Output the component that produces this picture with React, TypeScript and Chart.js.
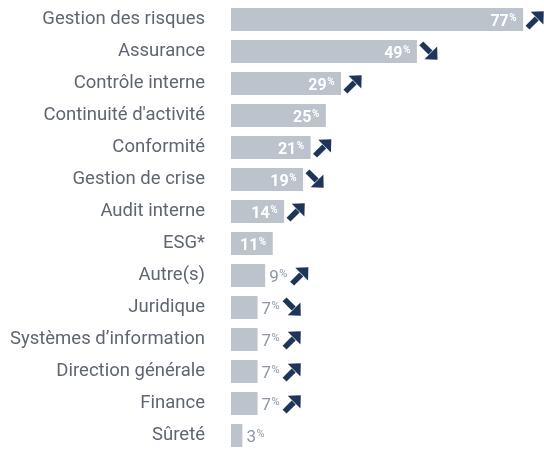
import React, { useEffect, useRef } from "react";
import { Chart, registerables } from "chart.js";

Chart.register(...registerables);

const categories = [
  "Gestion des risques",
  "Assurance",
  "Contrôle interne",
  "Continuité d'activité",
  "Conformité",
  "Gestion de crise",
  "Audit interne",
  "ESG*",
  "Autre(s)",
  "Juridique",
  "Systèmes d’information",
  "Direction générale",
  "Finance",
  "Sûreté",
];
const values = [77, 49, 29, 25, 21, 19, 14, 11, 9, 7, 7, 7, 7, 3];
// 1 = rising, -1 = falling, 0 = no arrow
const trends = [1, -1, 1, 0, 1, -1, 1, 0, 1, -1, 1, 1, 1, 0];

const BAR = "#bcc3cd";
const LABEL = "#5f6672";
const OUT = "#8c95a4";
const ARROW = "#1e3559";
const FONT = "Roboto, 'DejaVu Sans', sans-serif";

function drawArrow(ctx: CanvasRenderingContext2D, cx: number, cy: number, dir: number) {
  ctx.save();
  ctx.translate(cx, cy);
  ctx.rotate(dir > 0 ? -Math.PI / 4 : Math.PI / 4);
  ctx.fillStyle = ARROW;
  ctx.beginPath();
  ctx.rect(-11.5, -2.8, 13, 5.6);
  ctx.fill();
  ctx.beginPath();
  ctx.moveTo(11.5, 0);
  ctx.lineTo(2, -9);
  ctx.lineTo(2, 9);
  ctx.closePath();
  ctx.fill();
  ctx.restore();
}

const labelPlugin = {
  id: "valueLabels",
  afterDatasetsDraw(chart: any) {
    const ctx = chart.ctx as CanvasRenderingContext2D;
    const meta = chart.getDatasetMeta(0);
    meta.data.forEach((bar: any, i: number) => {
      const v = values[i];
      const x = bar.x;
      const y = bar.y;
      const inside = v >= 11;
      const num = String(v);
      const w = inside ? "bold " : "";
      const ns = inside ? 16 : 17;
      const ps = inside ? 10 : 11;
      ctx.save();
      ctx.textBaseline = "alphabetic";
      ctx.font = `${w}${ns}px ${FONT}`;
      const nw = ctx.measureText(num).width;
      ctx.font = `${w}${ps}px ${FONT}`;
      const pw = ctx.measureText("%").width;
      const start = inside ? x - 7 - nw - pw : x + 4;
      const base = y + 6;
      ctx.fillStyle = inside ? "#ffffff" : OUT;
      ctx.font = `${w}${ns}px ${FONT}`;
      ctx.fillText(num, start, base);
      ctx.font = `${w}${ps}px ${FONT}`;
      ctx.fillText("%", start + nw + 0.5, base - 5);
      ctx.restore();
      const end = inside ? x : start + nw + pw + 1;
      if (trends[i] !== 0) {
        drawArrow(ctx, end + 4 + 8.5, y, trends[i]);
      }
    });
  },
};

export default function App() {
  const ref = useRef<HTMLCanvasElement>(null);
  useEffect(() => {
    if (!ref.current) return;
    const chart = new Chart(ref.current, {
      type: "bar",
      data: {
        labels: categories,
        datasets: [
          {
            data: values,
            backgroundColor: BAR,
            borderWidth: 0,
            barPercentage: 0.72,
            categoryPercentage: 1,
          },
        ],
      },
      options: {
        indexAxis: "y",
        animation: false,
        responsive: false,
        layout: { padding: { top: 3.5, bottom: 2.5, left: 0, right: 0 } },
        plugins: {
          legend: { display: false },
          tooltip: { enabled: false },
        },
        scales: {
          x: { display: false, min: 0, max: 82.5 },
          y: {
            grid: { display: false, drawTicks: false },
            border: { display: false },
            ticks: {
              autoSkip: false,
              padding: 26,
              color: LABEL,
              font: { family: FONT, size: 18.5 },
            },
            afterFit: (s: any) => {
              s.width = 231;
              s.paddingTop = 0;
              s.paddingBottom = 0;
            },
          },
        },
      },
      plugins: [labelPlugin],
    });
    return () => chart.destroy();
  }, []);
  return (
    <div style={{ position: "absolute", left: 0, top: 0, width: 544, height: 454, background: "#fff" }}>
      <canvas ref={ref} width={544} height={454} style={{ display: "block", width: 544, height: 454 }} />
    </div>
  );
}
